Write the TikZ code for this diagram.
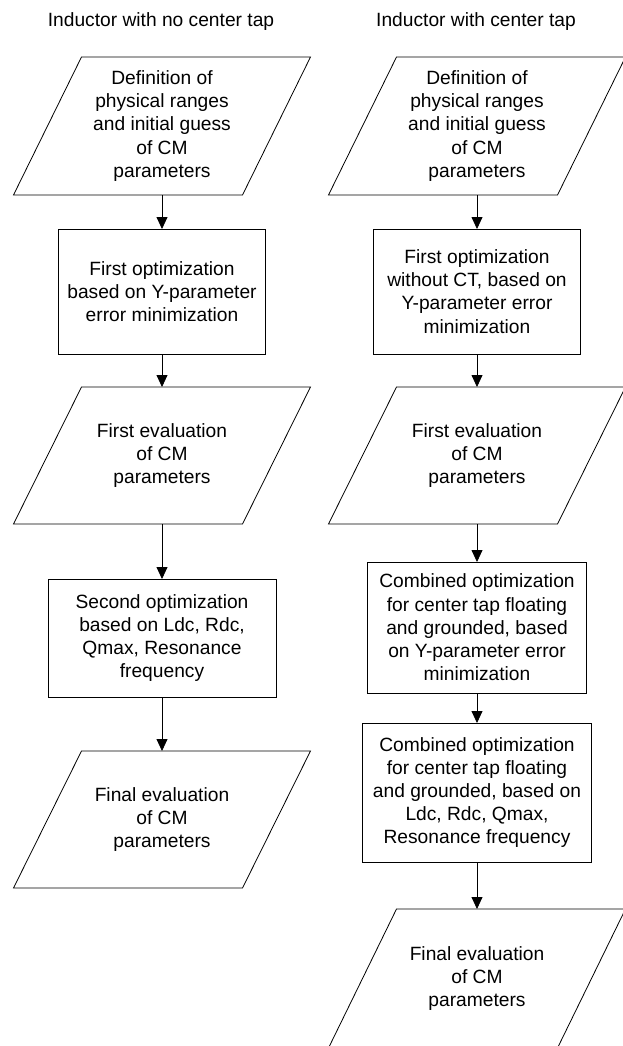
\documentclass[tikz,border=0pt]{standalone}
\usepackage{fontspec}
\setmainfont{Liberation Sans}
\usetikzlibrary{arrows.meta}
\begin{document}
\begin{tikzpicture}[x=1pt,y=-1pt,
  every node/.style={inner sep=0pt,outer sep=0pt,align=center,
    font=\fontsize{19.2}{23.2}\selectfont},
  stepbox/.style={draw=black,line width=0.8pt},
  para/.style={minimum width=229pt,minimum height=137pt},
  title/.style={},
  arr/.style={draw=black,line width=0.8pt,-{Triangle[length=12pt,width=11pt]}},
  outline/.style={draw=black,line width=0.8pt}]
\fill[white] (0,0) rectangle (623,1046);
\useasboundingbox (0,0) rectangle (623,1046);
\clip (0,0) rectangle (623,1046);
\newcommand\paraoutline[1]{%
  \draw[outline] ([xshift=34pt]#1.north west) -- ([xshift=34pt]#1.north east)
    -- ([xshift=-34pt]#1.south east) -- ([xshift=-34pt]#1.south west) -- cycle;}

% left column
\node[title] (t1) at (161,22) {Inductor with no center tap};
\node[para,minimum height=138pt] (p1) at (162,126) {Definition of\\physical ranges\\and initial guess\\of CM\\parameters};
\node[stepbox,minimum width=207pt,minimum height=125pt] (b1) at (162,291.5) {First optimization\\based on Y-parameter\\error minimization};
\node[para] (p2) at (162,455.5) {First evaluation\\of CM\\parameters};
\node[stepbox,minimum width=228pt,minimum height=118pt] (b2) at (162,638) {Second optimization\\based on Ldc, Rdc,\\Qmax, Resonance\\frequency};
\node[para] (p3) at (162,819.5) {Final evaluation\\of CM\\parameters};
\paraoutline{p1}
\paraoutline{p2}
\paraoutline{p3}
\draw[arr] (p1.south) -- (b1.north);
\draw[arr] (b1.south) -- (p2.north);
\draw[arr] (p2.south) -- (b2.north);
\draw[arr] (b2.south) -- (p3.north);

% right column
\node[title] (t2) at (476,22) {Inductor with center tap};
\node[para,minimum height=138pt] (q1) at (477,126) {Definition of\\physical ranges\\and initial guess\\of CM\\parameters};
\node[stepbox,minimum width=207pt,minimum height=125pt] (c1) at (477,291.5) {First optimization\\without CT, based on\\Y-parameter error\\minimization};
\node[para] (q2) at (477,455.5) {First evaluation\\of CM\\parameters};
\node[stepbox,minimum width=219pt,minimum height=131pt] (c2) at (477,627.5) {Combined optimization\\for center tap floating\\and grounded, based\\on Y-parameter error\\minimization};
\node[stepbox,minimum width=229pt,minimum height=139pt] (c3) at (477,792.5) {Combined optimization\\for center tap floating\\and grounded, based on\\Ldc, Rdc, Qmax,\\Resonance frequency};
\node[para,minimum height=139pt] (q3) at (477,978.5) {Final evaluation\\of CM\\parameters};
\paraoutline{q1}
\paraoutline{q2}
\paraoutline{q3}
\draw[arr] (q1.south) -- (c1.north);
\draw[arr] (c1.south) -- (q2.north);
\draw[arr] (q2.south) -- (c2.north);
\draw[arr] (c2.south) -- (c3.north);
\draw[arr] (c3.south) -- (q3.north);
\end{tikzpicture}
\end{document}
